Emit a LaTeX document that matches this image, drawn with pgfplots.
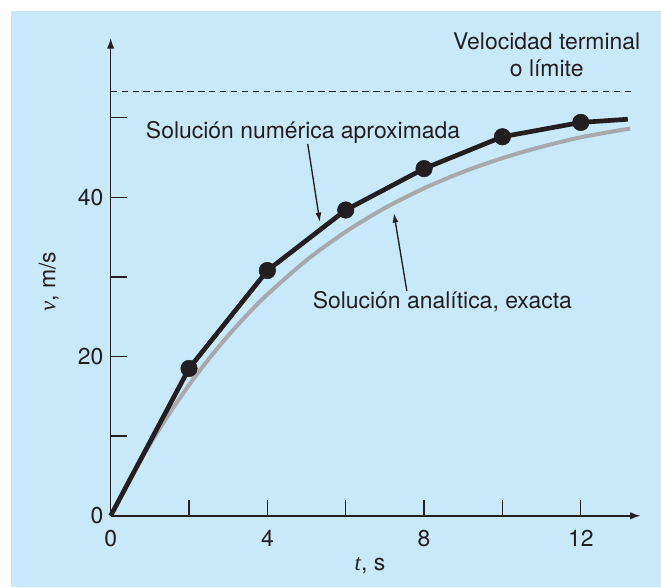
\documentclass[border=0pt]{standalone}
\usepackage{pgfplots}
\pgfplotsset{compat=1.18}
\usetikzlibrary{arrows.meta}
\usepackage{fontspec}
\setmainfont{TeX Gyre Heros}
\newfontfamily\serifit{Liberation Serif}
\definecolor{bgblue}{RGB}{199,233,249}
\definecolor{ink}{RGB}{35,31,32}
\definecolor{anagray}{RGB}{168,169,172}
\newcommand{\fs}{\fontsize{17.2}{20}\selectfont}
\begin{document}
\begin{tikzpicture}
\useasboundingbox (-83.0pt,-53.5pt) rectangle (412.7pt,386.8pt);
\fill[white] (-83.0pt,-53.5pt) rectangle (412.7pt,386.8pt);
\fill[bgblue] (-74.8pt,-53.5pt) rectangle (412.7pt,378.5pt);
\begin{axis}[
  at={(0,0)}, anchor=south west,
  scale only axis,
  width=397.5pt, height=358.3pt,
  xmin=0, xmax=13.53, ymin=0, ymax=60,
  axis lines=left,
  axis line style={ink, line width=1.1pt, -{Latex[length=8pt,width=5.5pt]}},
  clip=false,
  major tick length=12pt,
  tick style={ink, line width=1pt},
  xtick={0,2,4,6,8,10,12},
  xticklabels={0,,4,,8,,12},
  ytick={0,10,20,30,40,50},
  yticklabels={0,,20,,40,},
  /pgf/number format/assume math mode=true,
  every tick label/.append style={font=\fs, text=ink},
  xticklabel style={yshift=-7.5pt},
  yticklabel style={xshift=-2pt},
  xtick align=inside, ytick align=inside,
]
% terminal velocity
\addplot[ink, line width=0.9pt, dash pattern=on 4.8pt off 3.4pt] coordinates {(0,53.3) (13.33,53.3)};
% analytical solution
\addplot[anagray, line width=3pt, smooth] coordinates {
(0,0) (0.5,4.69) (1,8.96) (1.5,12.86) (2,16.42) (2.5,19.67) (3,22.63) (3.5,25.33)
(4,27.79) (5,32.10) (6,35.67) (7,38.65) (8,41.13) (9,43.20) (10,44.92)
(11,46.34) (12,47.53) (13,48.42) (13.26,48.6)};
% numerical solution
\addplot[ink, line width=3.5pt, line join=round] coordinates {
(0,0) (2,18.5) (4,30.8) (6,38.4) (8,43.6) (10,47.6) (12,49.4) (13.2,49.8)};
\addplot[only marks, mark=*, mark size=6.2pt, mark options={fill=ink, draw=ink}] coordinates {
(2,18.5) (4,30.8) (6,38.4) (8,43.6) (10,47.6) (12,49.4)};
% annotations
\node[anchor=base west, font=\fs, text=ink, inner sep=0pt] at (axis cs:0.894,47.41) {Solución numérica aproximada};
\draw[ink, line width=1pt, -{Latex[length=7pt,width=4.5pt]}] (axis cs:5.03,46.7) -- (axis cs:5.34,36.9);
\node[anchor=base east, font=\fs, text=ink, inner sep=0pt] at (axis cs:11.78,26.06) {Solución analítica, exacta};
\draw[ink, line width=1pt, -{Latex[length=7pt,width=4.5pt]}] (axis cs:7.56,28.23) -- (axis cs:7.23,38.0);
\node[anchor=base, font=\fs, text=ink, inner sep=0pt] at (axis cs:11.13,58.5) {Velocidad terminal};
\node[anchor=base, font=\fs, text=ink, inner sep=0pt] at (axis cs:11.13,55.15) {o límite};
% axis labels
\node[anchor=base, font=\fs, text=ink, inner sep=0pt] at (axis cs:6.62,-6.82) {{\serifit\itshape t}, s};
\node[anchor=center, rotate=90, font=\fs, text=ink, inner sep=0pt] at (axis cs:-1.58,29.4) {{\serifit\itshape v}, m/s};
\end{axis}
\end{tikzpicture}
\end{document}
